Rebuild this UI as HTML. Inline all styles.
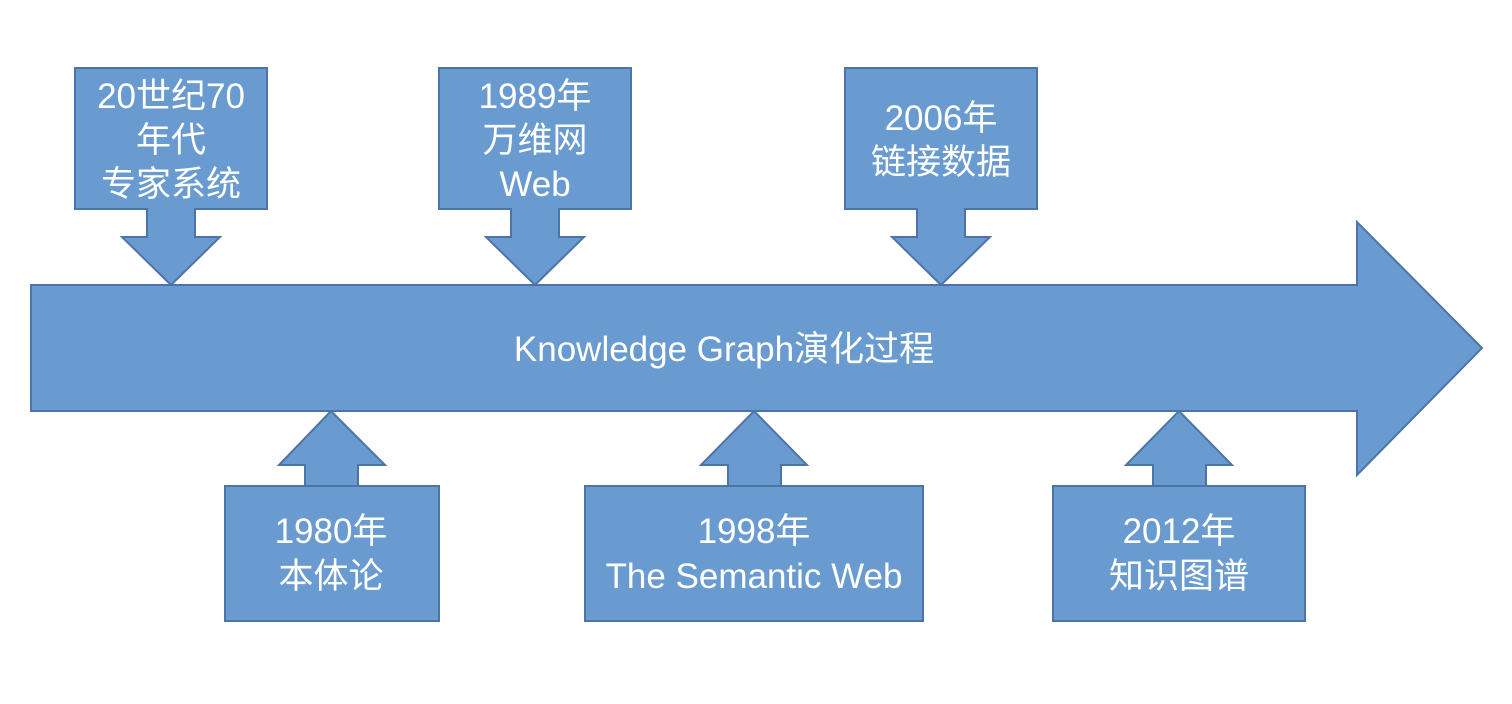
<!DOCTYPE html>
<html><head><meta charset="utf-8"><style>
html,body{margin:0;padding:0;background:#fff;}
svg{display:block}
text{font-family:"Liberation Sans","Noto Sans CJK SC",sans-serif;fill:#fff;font-size:35px;text-anchor:middle}
</style></head><body>
<svg width="1512" height="704" viewBox="0 0 1512 704">
<g fill="#6a9bd0" stroke="#4d74a6" stroke-width="2">
<polygon points="31,285 1357,285 1357,222 1482,348 1357,475 1357,411 31,411"/>
<polygon points="75,68 267,68 267,209 195,209 195,237 220,237 171,285 122,237 147,237 147,209 75,209"/>
<polygon points="439,68 631,68 631,209 559,209 559,237 584,237 535,285 486,237 511,237 511,209 439,209"/>
<polygon points="845,68 1037,68 1037,209 965,209 965,237 990,237 941,285 892,237 917,237 917,209 845,209"/>
<polygon points="225,486 439,486 439,621 225,621 225,486 305,486 305,465 279,465 331,411 385,465 358,465 358,486"/>
<polygon points="585,486 923,486 923,621 585,621 585,486 728,486 728,465 701,465 754,411 807,465 781,465 781,486"/>
<polygon points="1053,486 1305,486 1305,621 1053,621 1053,486 1153,486 1153,465 1126,465 1179,411 1232,465 1206,465 1206,486"/>
</g>
<text x="724" y="361">Knowledge Graph演化过程</text>
<g style="font-size:36px">
<text x="171" y="108">20世纪70</text>
<text x="171" y="152">年代</text>
<text x="171" y="196">专家系统</text>
<text x="535" y="108">1989年</text>
<text x="535" y="152">万维网</text>
<text x="535" y="196">Web</text>
<text x="941" y="130">2006年</text>
<text x="941" y="174">链接数据</text>
<text x="331" y="543">1980年</text>
<text x="331" y="588">本体论</text>
<text x="754" y="543">1998年</text>
<text x="754" y="588">The Semantic Web</text>
<text x="1179" y="543">2012年</text>
<text x="1179" y="588">知识图谱</text>
</g>
</svg>
</body></html>
